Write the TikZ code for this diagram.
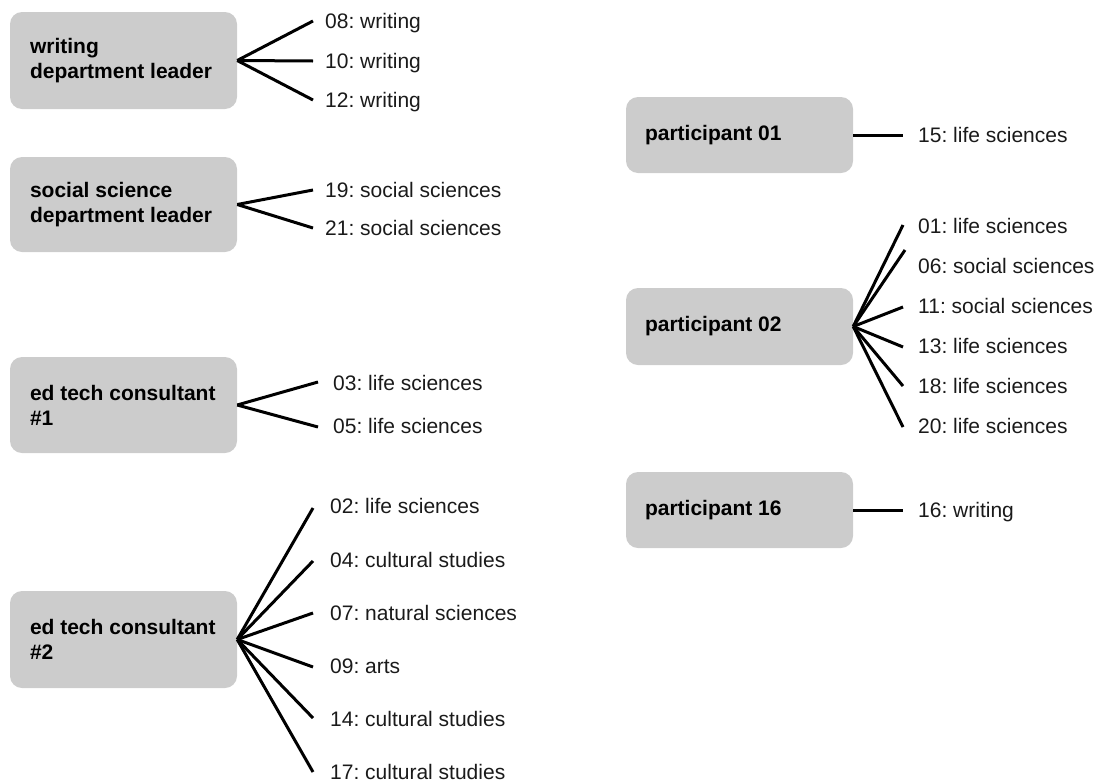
\documentclass[tikz,border=0pt]{standalone}
\usepackage{fontspec}
\setmainfont{Liberation Sans}
\frenchspacing
\definecolor{boxgray}{HTML}{CCCCCC}
\definecolor{labeltext}{HTML}{1A1A1A}
\begin{document}
\begin{tikzpicture}[x=1pt,y=-1pt,
  rolebox/.style={draw=none, fill=boxgray, rounded corners=12pt,
    minimum width=227pt, inner sep=0pt},
  roletext/.style={anchor=west, inner sep=0pt, align=left,
    font=\fontsize{21}{25}\selectfont\bfseries},
  leaf/.style={anchor=base west, inner sep=0pt, text=labeltext,
    font=\fontsize{21}{25}\selectfont},
  link/.style={line width=3pt, black}]
\useasboundingbox (0,0) rectangle (1099,782);

% left column
\node[rolebox, minimum height=97pt] (wdl) at (123.5,60.5) {};
\node[roletext] (wdlt) at ([xshift=20pt]wdl.west) {writing\\department leader};
\node[rolebox, minimum height=95pt] (sdl) at (123.5,204.5) {};
\node[roletext] (sdlt) at ([xshift=20pt]sdl.west) {social science\\department leader};
\node[rolebox, minimum height=96pt] (et1) at (123.5,405) {};
\node[roletext] (et1t) at ([xshift=20pt]et1.west) {ed tech consultant\\\#1};
\node[rolebox, minimum height=97pt] (et2) at (123.5,639.5) {};
\node[roletext] (et2t) at ([xshift=20pt]et2.west) {ed tech consultant\\\#2};

% right column
\node[rolebox, minimum height=76pt] (p01) at (739.5,135) {};
\node[roletext] (p01t) at ([xshift=19pt]p01.west) {participant 01};
\node[rolebox, minimum height=77pt] (p02) at (739.5,326.5) {};
\node[roletext] (p02t) at ([xshift=19pt]p02.west) {participant 02};
\node[rolebox, minimum height=76pt] (p16) at (739.5,510) {};
\node[roletext] (p16t) at ([xshift=19pt]p16.west) {participant 16};

% writing department leader
\node[leaf] (l08) at (325,28) {08: writing};
\node[leaf] (l10) at (325,68) {10: writing};
\node[leaf] (l12) at (325,107) {12: writing};
\coordinate (e08) at (313,21);
\coordinate (e10) at (313,61);
\coordinate (e12) at (313,100);
\foreach \e in {e08,e10,e12}
  \draw[link] (wdl.east) -- (\e);

% social science department leader
\node[leaf] (l19) at (325,197) {19: social sciences};
\node[leaf] (l21) at (325,235) {21: social sciences};
\coordinate (e19) at (313,190);
\coordinate (e21) at (313,228);
\foreach \e in {e19,e21}
  \draw[link] (sdl.east) -- (\e);

% ed tech consultant #1
\node[leaf] (l03) at (333,390) {03: life sciences};
\node[leaf] (l05) at (333,433) {05: life sciences};
\coordinate (e03) at (318,382);
\coordinate (e05) at (318,427);
\foreach \e in {e03,e05}
  \draw[link] (et1.east) -- (\e);

% ed tech consultant #2
\node[leaf] (l02) at (330,513) {02: life sciences};
\node[leaf] (l04) at (330,567) {04: cultural studies};
\node[leaf] (l07) at (330,620) {07: natural sciences};
\node[leaf] (l09) at (330,673) {09: arts};
\node[leaf] (l14) at (330,726) {14: cultural studies};
\node[leaf] (l17) at (330,779) {17: cultural studies};
\coordinate (e02) at (313,508);
\coordinate (e04) at (313,561);
\coordinate (e07) at (313,613);
\coordinate (e09) at (313,667);
\coordinate (e14) at (313,718);
\coordinate (e17) at (313,772);
\foreach \e in {e02,e04,e07,e09,e14,e17}
  \draw[link] (et2.east) -- (\e);

% participant 01
\node[leaf] (l15) at (918,142) {15: life sciences};
\coordinate (e15) at (903,135);
\draw[link] (p01.east) -- (e15);

% participant 02
\node[leaf] (l01) at (918,233) {01: life sciences};
\node[leaf] (l06) at (918,273) {06: social sciences};
\node[leaf] (l11) at (918,313) {11: social sciences};
\node[leaf] (l13) at (918,353) {13: life sciences};
\node[leaf] (l18) at (918,393) {18: life sciences};
\node[leaf] (l20) at (918,433) {20: life sciences};
\coordinate (e01) at (903,225);
\coordinate (e06) at (905,250);
\coordinate (e11) at (903,307);
\coordinate (e13) at (903,347);
\coordinate (e18) at (903,386);
\coordinate (e20) at (903,427);
\foreach \e in {e01,e06,e11,e13,e18,e20}
  \draw[link] (p02.east) -- (\e);

% participant 16
\node[leaf] (l16) at (918,517) {16: writing};
\coordinate (e16) at (903,510);
\draw[link] (p16.east) -- (e16);
\end{tikzpicture}
\end{document}
